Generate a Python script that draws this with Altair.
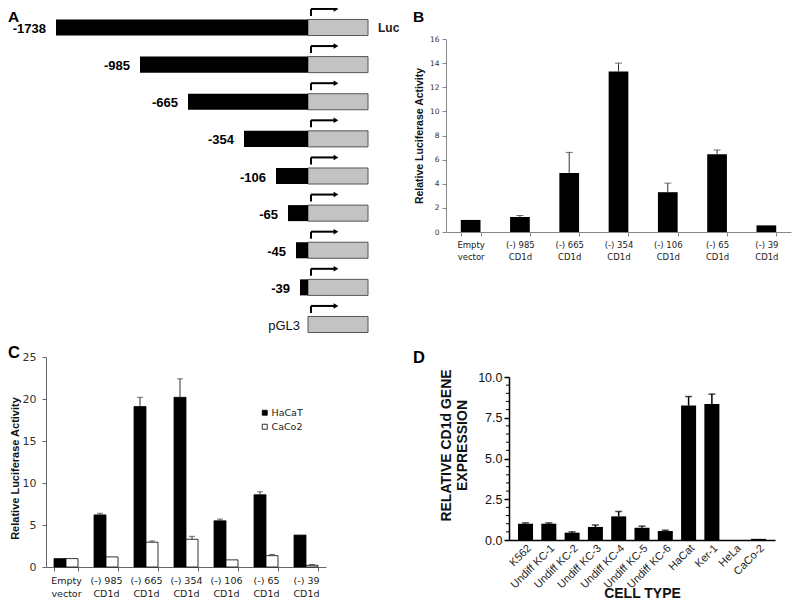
import altair as alt
import pandas as pd

# ---------------- data ----------------
# Panel A: CD1d promoter deletion constructs (schematic drawing)
a_constructs = ["-1738", "-985", "-665", "-354", "-106", "-65", "-45", "-39", "pGL3"]
a_fragment_len = [252, 168, 120, 64, 32, 20, 12, 8, 0]   # drawn length of promoter fragment (schematic units)
a_luc_len = 60
a_reporter = "Luc"

# Panel B: luciferase activity (one cell line)
b_constructs = ["Empty vector", "(-) 985 CD1d", "(-) 665 CD1d", "(-) 354 CD1d",
                "(-) 106 CD1d", "(-) 65 CD1d", "(-) 39 CD1d"]
b_activity = [1.0, 1.25, 4.9, 13.3, 3.3, 6.45, 0.55]
b_error = [0.0, 0.12, 1.7, 0.7, 0.75, 0.35, 0.0]

# Panel C: HaCaT vs CaCo2
c_constructs = ["Empty vector", "(-) 985 CD1d", "(-) 665 CD1d", "(-) 354 CD1d",
                "(-) 106 CD1d", "(-) 65 CD1d", "(-) 39 CD1d"]
c_series = ["HaCaT", "CaCo2"]
c_hacat = [1.0, 6.2, 19.1, 20.2, 5.5, 8.6, 3.8]
c_hacat_err = [0.0, 0.2, 1.1, 2.2, 0.2, 0.35, 0.0]
c_caco2 = [1.0, 1.2, 2.95, 3.3, 0.85, 1.35, 0.2]
c_caco2_err = [0.0, 0.0, 0.15, 0.35, 0.0, 0.15, 0.1]

# Panel D: relative CD1d gene expression by cell type
d_cells = ["K562", "Undiff KC-1", "Undiff KC-2", "Undiff KC-3", "Undiff KC-4", "Undiff KC-5",
           "Undiff KC-6", "HaCat", "Ker-1", "HeLa", "CaCo-2"]
d_expr = [1.0, 1.0, 0.45, 0.8, 1.45, 0.75, 0.55, 8.25, 8.35, 0.0, 0.07]
d_err = [0.05, 0.05, 0.05, 0.12, 0.3, 0.1, 0.05, 0.55, 0.6, 0.0, 0.0]
d_major_ticks = [0, 2.5, 5, 7.5, 10]
d_minor_ticks = [0.5, 1, 1.5, 2, 3, 3.5, 4, 4.5, 5.5, 6, 6.5, 7, 8, 8.5, 9, 9.5]

ARIAL = "Liberation Sans, Arial, sans-serif"
VERD = "DejaVu Sans, Verdana, sans-serif"
SPLIT = ("[slice(datum.label, 0, lastindexof(datum.label, ' ')), "
         "slice(datum.label, lastindexof(datum.label, ' ') + 1)]")

W, H = 784, 594   # whole canvas (plot group origin = page (8, 8))


def letter(t, x, y, baseline="alphabetic", size=16.5):
    return alt.Chart(pd.DataFrame({"t": [t]})).mark_text(
        align="left", baseline=baseline, font=ARIAL, fontSize=size, fontWeight="bold",
        color="black").encode(text="t:N", x=alt.value(x), y=alt.value(y))


# ---------------- Panel A ----------------
df_a = pd.DataFrame({"construct": a_constructs, "row": list(range(len(a_constructs))),
                     "frag": a_fragment_len})
base_a = alt.Chart(df_a).transform_calculate(
    start="-datum.frag", tss="0", luc=str(a_luc_len),
    top="datum.row - 0.216", bot="datum.row + 0.216",
    ax="3", ax2="28", ay1="datum.row - 0.31", ay2="datum.row - 0.5",
)
xa = alt.Scale(domain=[-300, 0], range=[0, 300], nice=False, zero=False)
ya = alt.Scale(domain=[0, 8], range=[19.5, 316.5], nice=False, zero=False)

a_black = base_a.mark_rect(color="black").encode(
    x=alt.X("start:Q", scale=xa, axis=None), x2="tss:Q",
    y=alt.Y("top:Q", scale=ya, axis=None), y2="bot:Q").transform_filter("datum.frag > 0")
a_grey = base_a.mark_rect(fill="#c3c3c3", stroke="#555555", strokeWidth=1).encode(
    x=alt.X("tss:Q", scale=xa, axis=None), x2="luc:Q",
    y=alt.Y("top:Q", scale=ya, axis=None), y2="bot:Q")
a_vrule = base_a.mark_rule(color="black", strokeWidth=2).encode(
    x=alt.X("ax:Q", scale=xa, axis=None), y=alt.Y("ay1:Q", scale=ya, axis=None), y2="ay2:Q")
a_hrule = base_a.mark_rule(color="black", strokeWidth=2).encode(
    x=alt.X("ax:Q", scale=xa, axis=None), x2="ax2:Q", y=alt.Y("ay2:Q", scale=ya, axis=None))
a_head = base_a.mark_point(shape="triangle-right", filled=True, color="black", size=30,
                           opacity=1).encode(
    x=alt.X("ax2:Q", scale=xa, axis=None), y=alt.Y("ay2:Q", scale=ya, axis=None))
a_lab = base_a.mark_text(align="right", baseline="middle", dx=-10, dy=1.5, font=ARIAL,
                         fontSize=13, fontWeight="bold", color="black").encode(
    x=alt.X("start:Q", scale=xa, axis=None), y=alt.Y("row:Q", scale=ya, axis=None),
    text="construct:N").transform_filter("datum.frag > 0")
a_lab0 = base_a.mark_text(align="right", baseline="middle", dx=-8, dy=1, font=ARIAL,
                          fontSize=13, color="#111").encode(
    x=alt.X("start:Q", scale=xa, axis=None), y=alt.Y("row:Q", scale=ya, axis=None),
    text="construct:N").transform_filter("datum.frag == 0")
a_luc = base_a.mark_text(align="left", baseline="middle", dx=10, font=ARIAL, fontSize=12,
                         fontWeight="bold", color="#222").encode(
    x=alt.X("luc:Q", scale=xa, axis=None), y=alt.Y("row:Q", scale=ya, axis=None),
    text=alt.value(a_reporter)).transform_filter("datum.row == 0")

panel_a = alt.layer(a_grey, a_black, a_vrule, a_hrule, a_head, a_lab, a_lab0, a_luc)

# ---------------- Panel B ----------------
df_b = pd.DataFrame({"construct": b_constructs, "activity": b_activity, "err": b_error})
base_b = alt.Chart(df_b).transform_calculate(hi="datum.activity + datum.err")
xb = alt.X("construct:N", sort=b_constructs,
           scale=alt.Scale(paddingInner=0.6, paddingOuter=0.3, range=[438, 783]),
           axis=alt.Axis(title=None, labelAngle=0, labelExpr=SPLIT, labelFont=VERD,
                         labelFontSize=8.5, labelColor="#222", labelLineHeight=12,
                         labelPadding=4, tickBand="extent", tickSize=4, tickColor="#888",
                         domainColor="#888", orient="bottom", offset=224 - H))
yb_scale = alt.Scale(domain=[0, 16], nice=False, range=[224, 31])
b_bars = base_b.mark_bar(color="black").encode(
    x=xb,
    y=alt.Y("activity:Q", scale=yb_scale,
            axis=alt.Axis(values=list(range(0, 17, 2)), title="Relative Luciferase Activity",
                          titleFont=ARIAL, titleFontSize=10.5, titleFontWeight="bold",
                          titleColor="#111", titlePadding=5, labelFont=VERD, labelFontSize=7.5,
                          labelColor="#333", labelPadding=3, tickSize=4, tickColor="#888",
                          domainColor="#888", grid=False, orient="left", offset=-438)))
b_rule = base_b.mark_rule(color="#333", strokeWidth=1).encode(
    x=xb, y=alt.Y("activity:Q", scale=yb_scale), y2="hi:Q").transform_filter("datum.err > 0")
b_cap = base_b.mark_tick(color="#333", thickness=1, size=7).encode(
    x=xb, y=alt.Y("hi:Q", scale=yb_scale)).transform_filter("datum.err > 0")
panel_b = alt.layer(b_bars, b_rule, b_cap)

# ---------------- Panel C ----------------
rows_c = []
for i, c in enumerate(c_constructs):
    rows_c.append({"construct": c, "series": c_series[0], "value": c_hacat[i], "err": c_hacat_err[i]})
    rows_c.append({"construct": c, "series": c_series[1], "value": c_caco2[i], "err": c_caco2_err[i]})
df_c = pd.DataFrame(rows_c)
base_c = alt.Chart(df_c).transform_calculate(hi="datum.value + datum.err")
xc = alt.X("construct:N", sort=c_constructs,
           scale=alt.Scale(paddingInner=0.4, paddingOuter=0.2, range=[38, 318]),
           axis=alt.Axis(title=None, labelAngle=0, labelExpr=SPLIT, labelFont=VERD,
                         labelFontSize=9.5, labelColor="#222", labelLineHeight=13,
                         labelPadding=4, tickBand="extent", tickSize=4, tickColor="#666",
                         domainColor="#666", orient="bottom", offset=559 - H))
xoff = alt.XOffset("series:N", sort=c_series, scale=alt.Scale(paddingInner=0, paddingOuter=0))
yc_scale = alt.Scale(domain=[0, 25], nice=False, range=[559, 349])
c_bars = base_c.mark_bar(stroke="black", strokeWidth=0.8).encode(
    x=xc, xOffset=xoff,
    y=alt.Y("value:Q", scale=yc_scale,
            axis=alt.Axis(values=list(range(0, 26, 5)), title="Relative Luciferase Activity",
                          titleFont=ARIAL, titleFontSize=11, titleFontWeight="bold",
                          titleColor="#111", titlePadding=2, titleY=460, labelFont=VERD,
                          labelFontSize=11, labelColor="#333", labelPadding=6, tickSize=4,
                          tickColor="#666", domainColor="#666", grid=False, orient="left",
                          offset=-38)),
    color=alt.Color("series:N", sort=c_series,
                    scale=alt.Scale(domain=c_series, range=["black", "white"]),
                    legend=alt.Legend(title=None, orient="none", legendX=252, legendY=400,
                                      symbolType="square", symbolSize=25,
                                      symbolStrokeColor="black", symbolStrokeWidth=0.8,
                                      labelFont=VERD, labelFontSize=9.5, labelColor="#222",
                                      rowPadding=3, labelOffset=2)))
c_rule = base_c.mark_rule(color="#333", strokeWidth=1).encode(
    x=xc, xOffset=xoff, y=alt.Y("value:Q", scale=yc_scale), y2="hi:Q").transform_filter("datum.err > 0")
c_cap = base_c.mark_tick(color="#333", thickness=1, size=6).encode(
    x=xc, xOffset=xoff, y=alt.Y("hi:Q", scale=yc_scale)).transform_filter("datum.err > 0")
panel_c = alt.layer(c_bars, c_rule, c_cap)

# ---------------- Panel D ----------------
df_d = pd.DataFrame({"cell": d_cells, "expr": d_expr, "err": d_err})
base_d = alt.Chart(df_d).transform_calculate(hi="datum.expr + datum.err")
xd = alt.X("cell:N", sort=d_cells,
           scale=alt.Scale(paddingInner=0.355, paddingOuter=0.387, range=[501, 767]),
           axis=alt.Axis(title="CELL TYPE", titleFont=ARIAL, titleFontSize=14,
                         titleFontWeight="bold", titleColor="#111", titleY=46,
                         titleBaseline="top",
                         labelAngle=315, labelAlign="right", labelBaseline="top",
                         labelFont=ARIAL, labelFontSize=11, labelColor="#222",
                         labelPadding=2, ticks=False, domainColor="black", domainWidth=1.5,
                         orient="bottom", offset=532 - H))
yd_scale = alt.Scale(domain=[0, 10], nice=False, range=[532, 369])
d_bars = base_d.mark_bar(color="black").encode(
    x=xd,
    y=alt.Y("expr:Q", scale=yd_scale,
            axis=alt.Axis(values=d_major_ticks, format=".1f",
                          title=["RELATIVE CD1d GENE", "EXPRESSION"], titleFont=ARIAL,
                          titleFontSize=14, titleFontWeight="bold", titleColor="#111",
                          titleLineHeight=16, titlePadding=8, titleY=437, labelFont=ARIAL,
                          labelFontSize=12.5, labelColor="#111", labelPadding=2,
                          tickSize=5, tickWidth=1.5, tickColor="black", domainColor="black",
                          domainWidth=1.5, grid=False, orient="left", offset=-501)))
d_rule = base_d.mark_rule(color="black", strokeWidth=1.5).encode(
    x=xd, y=alt.Y("expr:Q", scale=yd_scale), y2="hi:Q").transform_filter("datum.err > 0")
d_cap = base_d.mark_tick(color="black", thickness=1.5, size=7).encode(
    x=xd, y=alt.Y("hi:Q", scale=yd_scale)).transform_filter("datum.err > 0")
d_minor = alt.Chart(pd.DataFrame({"tick": d_minor_ticks})).mark_rule(
    color="black", strokeWidth=1).encode(
    x=alt.value(498), x2=alt.value(501), y=alt.Y("tick:Q", scale=yd_scale))
panel_d = alt.layer(d_bars, d_rule, d_cap, d_minor)

letters = alt.layer(letter("A", 0, 2, "top", 15.5), letter("B", 405, 2, "top", 15.5),
                    letter("C", 0, 350), letter("D", 405, 355))

chart = alt.layer(panel_a, panel_b, panel_c, panel_d, letters).resolve_scale(
    x="independent", y="independent").resolve_axis(x="independent", y="independent").properties(
    width=W, height=H, padding=0, background="white",
    autosize=alt.AutoSizeParams(type="none")).configure_view(stroke=None)

chart.save("out.html", embed_options={"renderer": "svg", "actions": False})
